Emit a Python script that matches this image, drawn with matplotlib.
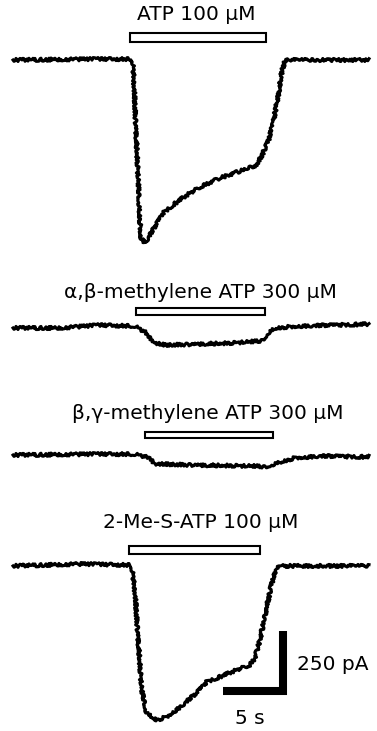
import numpy as np
import matplotlib
matplotlib.use("Agg")
import matplotlib.pyplot as plt
from matplotlib.patches import Rectangle

# Whole-cell currents evoked by P2X agonists.
# time in s, current in pA relative to holding level (inward = negative)
atp_t = [0.0, 7.25, 9.83, 10.0, 10.64, 11.0, 11.67, 12.5, 13.33, 14.5, 15.58,
         17.25, 18.67, 20.33, 20.75, 21.25, 21.67, 22.08, 22.42, 22.67, 22.9, 29.67]
atp_i = [0, 4, 4, -4, -737, -762, -708, -638, -604, -562, -529,
         -492, -467, -437, -396, -342, -262, -154, -42, -4, 0, 0]

abme_t = [0.0, 3.92, 7.25, 10.17, 11.0, 11.83, 12.67, 15.58, 18.08, 20.75,
          21.25, 21.83, 23.92, 29.67]
abme_i = [-4, -4, 8, 4, -21, -67, -75, -71, -67, -58, -25, -4, 4, 12]

bgme_t = [0.0, 7.25, 10.17, 11.42, 11.83, 15.58, 20.17, 21.0, 22.25, 23.5,
          25.58, 29.67]
bgme_i = [4, 8, 8, -8, -33, -38, -42, -46, -25, -8, 0, -4]

mes_t = [0.0, 5.58, 9.75, 9.92, 10.17, 10.72, 11.14, 11.97, 12.81, 13.92,
         15.31, 16.14, 17.25, 18.64, 19.75, 20.17, 20.58, 21.14, 21.69,
         22.11, 22.42, 29.67]
mes_i = [0, 8, 4, -4, -112, -517, -612, -642, -629, -588, -529, -483, -462,
         -433, -412, -383, -308, -171, -46, -4, 0, 0]

labels = ["ATP 100 μM", "α,β-methylene ATP 300 μM",
          "β,γ-methylene ATP 300 μM", "2-Me-S-ATP 100 μM"]
# agonist application (s)
app_on = [9.75, 10.25, 11.0, 9.67]
app_off = [21.08, 21.0, 21.67, 20.58]

traces = [(atp_t, atp_i), (abme_t, abme_i), (bgme_t, bgme_i), (mes_t, mes_i)]

# vertical layout (pA on the shared axis)
offsets = [-250, -1362.5, -1900, -2358]
bar_y = [-158, -1298, -1812, -2290]
bar_h = [38, 30, 28, 34]
label_y = [-60, -1217, -1721, -2179]
label_x = [15.3, 15.6, 16.2, 15.6]

fig = plt.figure(figsize=(3.77, 7.31), dpi=100)
ax = fig.add_axes([0, 0, 1, 1])
ax.set_xlim(-13 / 12, 364 / 12)
ax.set_ylim(-731 / 0.24, 0)
ax.axis("off")

for k, (t, i) in enumerate(traces):
    y = np.array(i) + offsets[k]
    ln, = ax.plot(t, y, color="black", lw=2.2, solid_joinstyle="round")
    ln.set_sketch_params(scale=1.6, length=1.2, randomness=5)
    ax.add_patch(Rectangle((app_on[k], bar_y[k] - bar_h[k] / 2),
                           app_off[k] - app_on[k], bar_h[k],
                           facecolor="white", edgecolor="black", lw=1.5))
    ax.text(label_x[k], label_y[k], labels[k], ha="center", va="center",
            fontsize=14.5, family="DejaVu Sans")

# scale bar: 5 s, 250 pA
cx, cy = 22.5, -2879
ax.plot([cx - 5, cx, cx], [cy, cy, cy + 250], color="black", lw=5.8,
        solid_joinstyle="miter", solid_capstyle="butt")
ax.text(23.7, -665 / 0.24, "250 pA", ha="left", va="center", fontsize=14.5)
ax.text(19.75, -718 / 0.24, "5 s", ha="center", va="center", fontsize=14.5)

fig.savefig("out.png", dpi=100)
